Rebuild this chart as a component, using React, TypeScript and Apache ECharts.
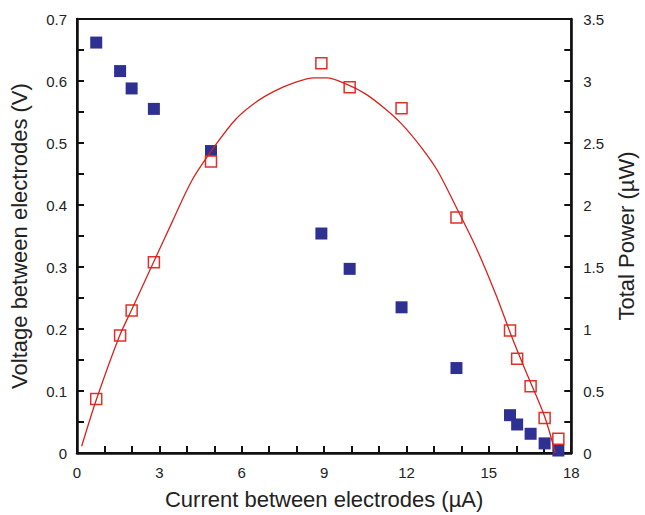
import React, { useEffect, useRef } from "react";
import * as echarts from "echarts";

// Measured data
const current = [0.7, 1.57, 1.99, 2.8, 4.88, 8.9, 9.93, 11.82, 13.82, 15.77, 16.03, 16.52, 17.03, 17.53];
const voltage = [0.662, 0.616, 0.588, 0.555, 0.487, 0.354, 0.297, 0.235, 0.137, 0.061, 0.046, 0.031, 0.0155, 0.004];
const power = [0.435, 0.947, 1.15, 1.539, 2.35, 3.144, 2.95, 2.78, 1.9, 0.987, 0.76, 0.539, 0.283, 0.115];

// Fitted curve
const fitCurrent = [0.17, 0.7, 1.53, 2.0, 2.77, 3.48, 4.19, 5.08, 5.79, 6.5, 7.21, 7.92, 8.63, 9.1, 9.81, 10.52, 11.23, 11.82, 12.53, 13.12, 13.83, 14.54, 15.25, 15.84, 16.43, 17.03, 17.42];
const fitPower = [0.054, 0.427, 0.934, 1.16, 1.53, 1.87, 2.2, 2.494, 2.694, 2.827, 2.92, 2.987, 3.025, 3.025, 2.974, 2.894, 2.774, 2.654, 2.467, 2.28, 1.974, 1.654, 1.28, 0.934, 0.614, 0.294, 0.0];

const FONT = "'Liberation Sans', Arial, Helvetica, sans-serif";
const TXT = "#222";
const AX = "#111";

function makeAxis(extra: any) {
  return {
    type: "value",
    axisLine: { show: true, onZero: false, lineStyle: { color: AX, width: 2.5 } },
    axisTick: { show: true, inside: true, length: 7, lineStyle: { color: AX, width: 2 } },
    minorTick: { show: true, length: 7, splitNumber: extra.minorSplit, lineStyle: { color: AX, width: 2 } },
    splitLine: { show: false },
    minorSplitLine: { show: false },
    axisLabel: { show: true, fontSize: 15, color: TXT, fontFamily: FONT, margin: extra.labelMargin },
    nameLocation: "middle",
    nameTextStyle: { fontSize: 22, color: TXT, fontFamily: FONT },
    min: extra.min,
    max: extra.max,
    interval: extra.interval,
    name: extra.name,
    nameGap: extra.nameGap,
    position: extra.position,
  };
}

export default function App() {
  const ref = useRef<HTMLDivElement>(null);
  useEffect(() => {
    document.body.style.margin = "0";
    const chart = echarts.init(ref.current!, null, { renderer: "svg" });
    chart.setOption({
      animation: false,
      backgroundColor: "#fff",
      grid: {
        left: 77,
        right: 61,
        top: 19,
        bottom: 58,
        show: true,
        borderColor: AX,
        borderWidth: 2,
        backgroundColor: "transparent",
      },
      xAxis: makeAxis({
        min: 0, max: 18, interval: 3, minorSplit: 3, labelMargin: 12,
        name: "Current between electrodes (µA)", nameGap: 35, position: "bottom",
      }),
      yAxis: [
        makeAxis({
          min: 0, max: 0.7, interval: 0.1, minorSplit: 2, labelMargin: 10,
          name: "Voltage between electrodes (V)", nameGap: 47, position: "left",
        }),
        makeAxis({
          min: 0, max: 3.5, interval: 0.5, minorSplit: 2, labelMargin: 12,
          name: "Total Power (µW)", nameGap: 40, position: "right",
        }),
      ],
      series: [
        {
          type: "scatter",
          yAxisIndex: 0,
          data: current.map((c, i) => [c, voltage[i]]),
          symbol: "rect",
          symbolSize: 12,
          itemStyle: { color: "#2e3192", opacity: 1 },
          clip: false,
          z: 2,
        },
        {
          type: "scatter",
          yAxisIndex: 1,
          data: current.map((c, i) => [c, power[i]]),
          symbol: "rect",
          symbolSize: 11,
          itemStyle: { color: "#fff", borderColor: "#e0302a", borderWidth: 1.5, opacity: 1 },
          clip: false,
          z: 3,
        },
        {
          type: "line",
          yAxisIndex: 1,
          data: fitCurrent.map((c, i) => [c, fitPower[i]]),
          smooth: 0.3,
          showSymbol: false,
          symbol: "none",
          lineStyle: { color: "#d9221c", width: 1.3 },
          clip: false,
          z: 4,
        },
      ],
    });
    return () => chart.dispose();
  }, []);
  return <div ref={ref} style={{ width: 645, height: 515 }} />;
}
